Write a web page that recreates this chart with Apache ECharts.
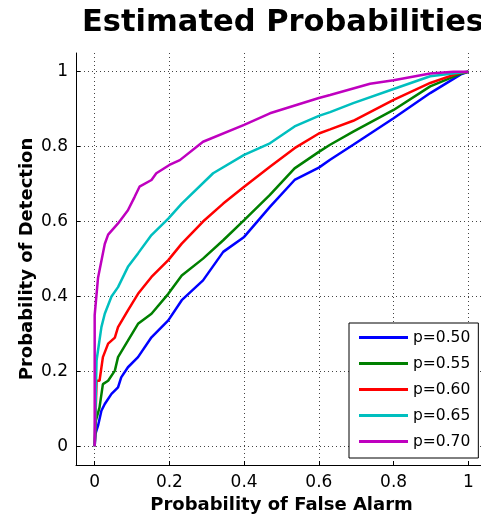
<!DOCTYPE html>
<html><head><meta charset="utf-8">
<script src="https://cdn.jsdelivr.net/npm/echarts@6/dist/echarts.min.js"></script>
<style>html,body{margin:0;padding:0;background:#fff}#c{width:481px;height:515px}</style>
</head><body><div id="c"></div>
<script>
const seriesNames = ['p=0.50','p=0.55','p=0.60','p=0.65','p=0.70'];
const tickValues = [0, 0.2, 0.4, 0.6, 0.8, 1];

const x050 = [0,0.002,0.009,0.018,0.027,0.045,0.0625,0.071,0.089,0.116,0.152,0.197,0.233,0.29,0.344,0.4,0.469,0.535,0.6,0.63,0.692,0.8,0.898,0.98,1];
const y050 = [0,0.033,0.055,0.095,0.113,0.14,0.157,0.184,0.211,0.238,0.291,0.336,0.39,0.443,0.519,0.559,0.639,0.711,0.744,0.765,0.805,0.876,0.943,0.993,1];

const x055 = [0,0.003,0.013,0.022,0.036,0.054,0.0625,0.089,0.116,0.152,0.197,0.233,0.29,0.344,0.4,0.469,0.535,0.6,0.63,0.692,0.8,0.898,0.98,1];
const y055 = [0,0.068,0.104,0.166,0.175,0.202,0.238,0.282,0.327,0.354,0.407,0.456,0.501,0.55,0.604,0.671,0.742,0.786,0.805,0.84,0.898,0.961,0.995,1];

const x060 = [0,0.005,0.013,0.022,0.036,0.054,0.0625,0.089,0.116,0.152,0.197,0.233,0.29,0.344,0.4,0.469,0.535,0.6,0.63,0.692,0.8,0.898,0.97,1];
const y060 = [0,0.175,0.175,0.238,0.274,0.29,0.318,0.363,0.407,0.452,0.497,0.541,0.6,0.648,0.693,0.746,0.796,0.835,0.846,0.869,0.925,0.97,0.995,1];

const x065 = [0,0.005,0.018,0.027,0.045,0.0625,0.089,0.116,0.152,0.197,0.233,0.317,0.4,0.469,0.535,0.6,0.63,0.692,0.8,0.898,0.98,1];
const y065 = [0,0.229,0.318,0.354,0.4,0.425,0.479,0.515,0.564,0.608,0.648,0.729,0.778,0.809,0.854,0.882,0.892,0.916,0.954,0.988,0.998,1];

const x070 = [0,0,0.009,0.027,0.036,0.0625,0.089,0.107,0.12,0.152,0.165,0.2,0.228,0.29,0.4,0.469,0.6,0.63,0.737,0.8,0.898,0.96,1];
const y070 = [0,0.35,0.45,0.54,0.565,0.595,0.63,0.666,0.693,0.711,0.729,0.751,0.764,0.813,0.858,0.889,0.93,0.938,0.968,0.977,0.995,1,1];

const colors = ['#0000FF','#008000','#FF0000','#00BFBF','#BF00BF'];
const xs = [x050,x055,x060,x065,x070];
const ys = [y050,y055,y060,y065,y070];

const FONT = "'DejaVu Sans', sans-serif";
const chart = echarts.init(document.getElementById('c'), null, {renderer:'canvas'});

const gridStyle = {show:true, lineStyle:{color:'#444', type:[1,3], width:1}};

const series = seriesNames.map((n,i)=>({
  name:n, type:'line', symbol:'none', animation:false,
  lineStyle:{width:2.5, color:colors[i]}, itemStyle:{color:colors[i]},
  data: xs[i].map((x,j)=>[x, ys[i][j]])
}));

chart.setOption({
  animation:false,
  backgroundColor:'#fff',
  title:{text:'Estimated Probabilities', left:278, textAlign:'center', top:3,
    textStyle:{fontFamily:FONT, fontSize:30.5, fontWeight:'bold', color:'#000'}},
  grid:{left:76, top:53, width:411, height:412, containLabel:false, outerBoundsMode:'none'},
  legend:{left:349, top:323, orient:'vertical', icon:'rect', itemWidth:49, itemHeight:3,
    itemGap:9, padding:[6,8,8,10], borderColor:'#000', borderWidth:1, backgroundColor:'#fff',
    borderRadius:0,
    textStyle:{fontFamily:FONT, fontSize:15.5, color:'#000', lineHeight:17}, data:seriesNames},
  xAxis:{type:'value', min:-0.05, max:1.05,
    name:'Probability of False Alarm', nameLocation:'middle', nameGap:31, nameMoveOverlap:false,
    nameTextStyle:{fontFamily:FONT, fontSize:18, fontWeight:'bold', color:'#000'},
    axisLine:{show:true, onZero:false, lineStyle:{color:'#000', width:1}},
    axisTick:{show:true, inside:true, length:4, customValues:tickValues, lineStyle:{color:'#000'}},
    axisLabel:{customValues:tickValues, fontFamily:FONT, fontSize:17, color:'#000', margin:9},
    splitLine:gridStyle},
  yAxis:{type:'value', min:-0.05, max:1.05,
    name:'Probability of Detection', nameLocation:'middle', nameGap:40, nameRotate:90, nameMoveOverlap:false,
    nameTextStyle:{fontFamily:FONT, fontSize:18, fontWeight:'bold', color:'#000'},
    axisLine:{show:true, onZero:false, lineStyle:{color:'#000', width:1}},
    axisTick:{show:true, inside:true, length:4, customValues:tickValues, lineStyle:{color:'#000'}},
    axisLabel:{customValues:tickValues, fontFamily:FONT, fontSize:17, color:'#000', margin:8},
    splitLine:gridStyle},
  series: series
});
</script></body></html>
